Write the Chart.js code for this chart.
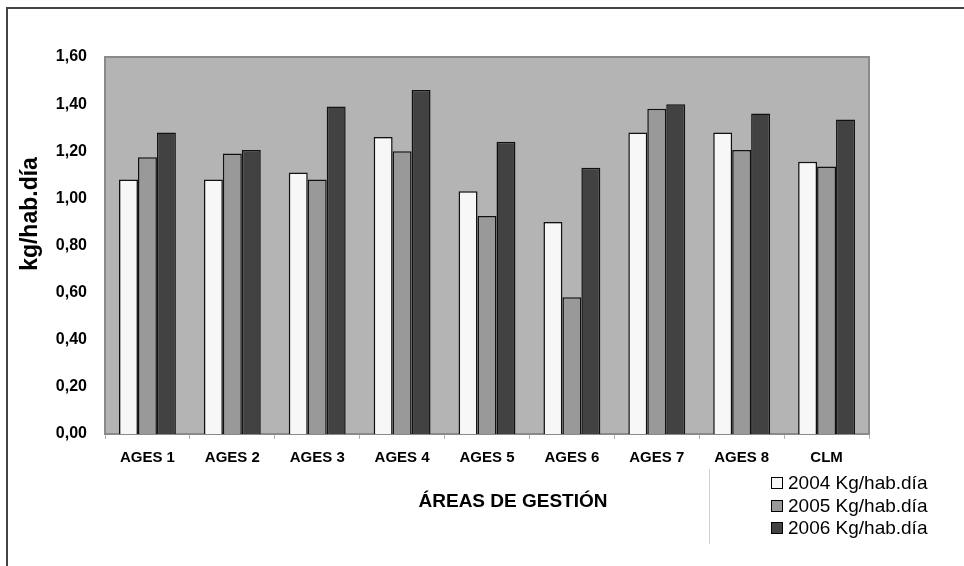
<!DOCTYPE html>
<html>
<head>
<meta charset="utf-8">
<script src="https://cdn.jsdelivr.net/npm/chart.js@4"></script>
<style>
  html, body { margin: 0; padding: 0; background: #fff; }
  #wrap { width: 964px; height: 566px; }
</style>
</head>
<body>
<div id="wrap"><canvas id="residuosChart" width="964" height="566"></canvas></div>
<script>
// Areas de gestion
const areas = ['AGES 1', 'AGES 2', 'AGES 3', 'AGES 4', 'AGES 5', 'AGES 6', 'AGES 7', 'AGES 8', 'CLM'];

// kg/hab.dia per year
const kg2004 = [1.08, 1.08, 1.11, 1.26, 1.03, 0.90, 1.28, 1.28, 1.155];
const kg2005 = [1.175, 1.19, 1.08, 1.20, 0.925, 0.58, 1.38, 1.205, 1.135];
const kg2006 = [1.28, 1.205, 1.39, 1.46, 1.24, 1.13, 1.40, 1.36, 1.335];

const seriesLabels = ['2004 Kg/hab.día', '2005 Kg/hab.día', '2006 Kg/hab.día'];
const seriesColors = ['#f7f7f7', '#999999', '#424242'];

const yTitle = 'kg/hab.día';
const xTitle = 'ÁREAS DE GESTIÓN';

// background, frame lines, titles and legend
const decorPlugin = {
    id: 'decor',
    beforeDraw(chart) {
        const ctx = chart.ctx;
        const a = chart.chartArea;
        ctx.save();
        ctx.fillStyle = '#fff';
        ctx.fillRect(0, 0, chart.width, chart.height);
        // outer frame (top + left only visible)
        ctx.strokeStyle = '#444';
        ctx.lineWidth = 2;
        ctx.beginPath();
        ctx.moveTo(964, 8);
        ctx.lineTo(7, 8);
        ctx.lineTo(7, 566);
        ctx.stroke();
        // plot background
        ctx.fillStyle = '#b4b4b4';
        ctx.fillRect(a.left, a.top, a.right - a.left, a.bottom - a.top);
        ctx.strokeStyle = '#8a8a8a';
        ctx.lineWidth = 2;
        ctx.strokeRect(a.left, a.top, a.right - a.left, a.bottom - a.top);
        ctx.restore();
    },
    afterDraw(chart) {
        const ctx = chart.ctx;
        ctx.save();
        ctx.fillStyle = '#000';
        // y title
        ctx.font = 'bold 23px "Liberation Sans", Arial, sans-serif';
        ctx.textAlign = 'center';
        ctx.textBaseline = 'middle';
        ctx.translate(31, 214);
        ctx.rotate(-Math.PI / 2);
        ctx.fillText(yTitle, 0, 0);
        ctx.setTransform(1, 0, 0, 1, 0, 0);
        // x title
        ctx.font = 'bold 19px "Liberation Sans", Arial, sans-serif';
        ctx.fillText(xTitle, 513, 502);
        // legend divider
        ctx.strokeStyle = '#cfcfcf';
        ctx.lineWidth = 1;
        ctx.beginPath();
        ctx.moveTo(709.5, 469);
        ctx.lineTo(709.5, 544);
        ctx.stroke();
        // legend
        const rows = [483, 506, 528];
        ctx.font = '19px "Liberation Sans", Arial, sans-serif';
        ctx.textAlign = 'left';
        chart.data.datasets.forEach((ds, i) => {
            ctx.fillStyle = ds.backgroundColor;
            ctx.fillRect(771.5, rows[i] - 5.5, 11, 11);
            ctx.strokeStyle = '#000';
            ctx.strokeRect(771.5, rows[i] - 5.5, 11, 11);
            ctx.fillStyle = '#000';
            ctx.fillText(ds.label, 788, rows[i] + 1);
        });
        ctx.restore();
    }
};

const ctx = document.getElementById('residuosChart').getContext('2d');
const residuosChart = new Chart(ctx, {
    type: 'bar',
    data: {
        labels: areas,
        datasets: [kg2004, kg2005, kg2006].map((d, i) => ({
            label: seriesLabels[i],
            data: d,
            backgroundColor: seriesColors[i],
            borderColor: '#111',
            borderWidth: 1.5,
            categoryPercentage: 0.67,
            barPercentage: 1.0
        }))
    },
    options: {
        responsive: false,
        animation: false,
        layout: { padding: { top: 57, right: 95, left: 0, bottom: 0 } },
        plugins: {
            legend: { display: false },
            tooltip: { enabled: false }
        },
        scales: {
            x: {
                afterFit(s) { s.height = 132; },
                grid: { offset: true, drawOnChartArea: false, tickLength: 5, color: '#b0b0b0' },
                border: { color: '#8a8a8a', width: 1 },
                ticks: {
                    color: '#000',
                    padding: 10,
                    maxRotation: 0,
                    font: { family: '"Liberation Sans", Arial, sans-serif', size: 15, weight: 'bold' }
                }
            },
            y: {
                min: 0,
                max: 1.6,
                afterFit(s) { s.width = 105; },
                grid: { display: false },
                border: { display: false },
                ticks: {
                    stepSize: 0.2,
                    color: '#000',
                    padding: 10,
                    font: { family: '"Liberation Sans", Arial, sans-serif', size: 16, weight: 'bold' },
                    callback: v => v.toFixed(2).replace('.', ',')
                }
            }
        }
    },
    plugins: [decorPlugin]
});
</script>
</body>
</html>
